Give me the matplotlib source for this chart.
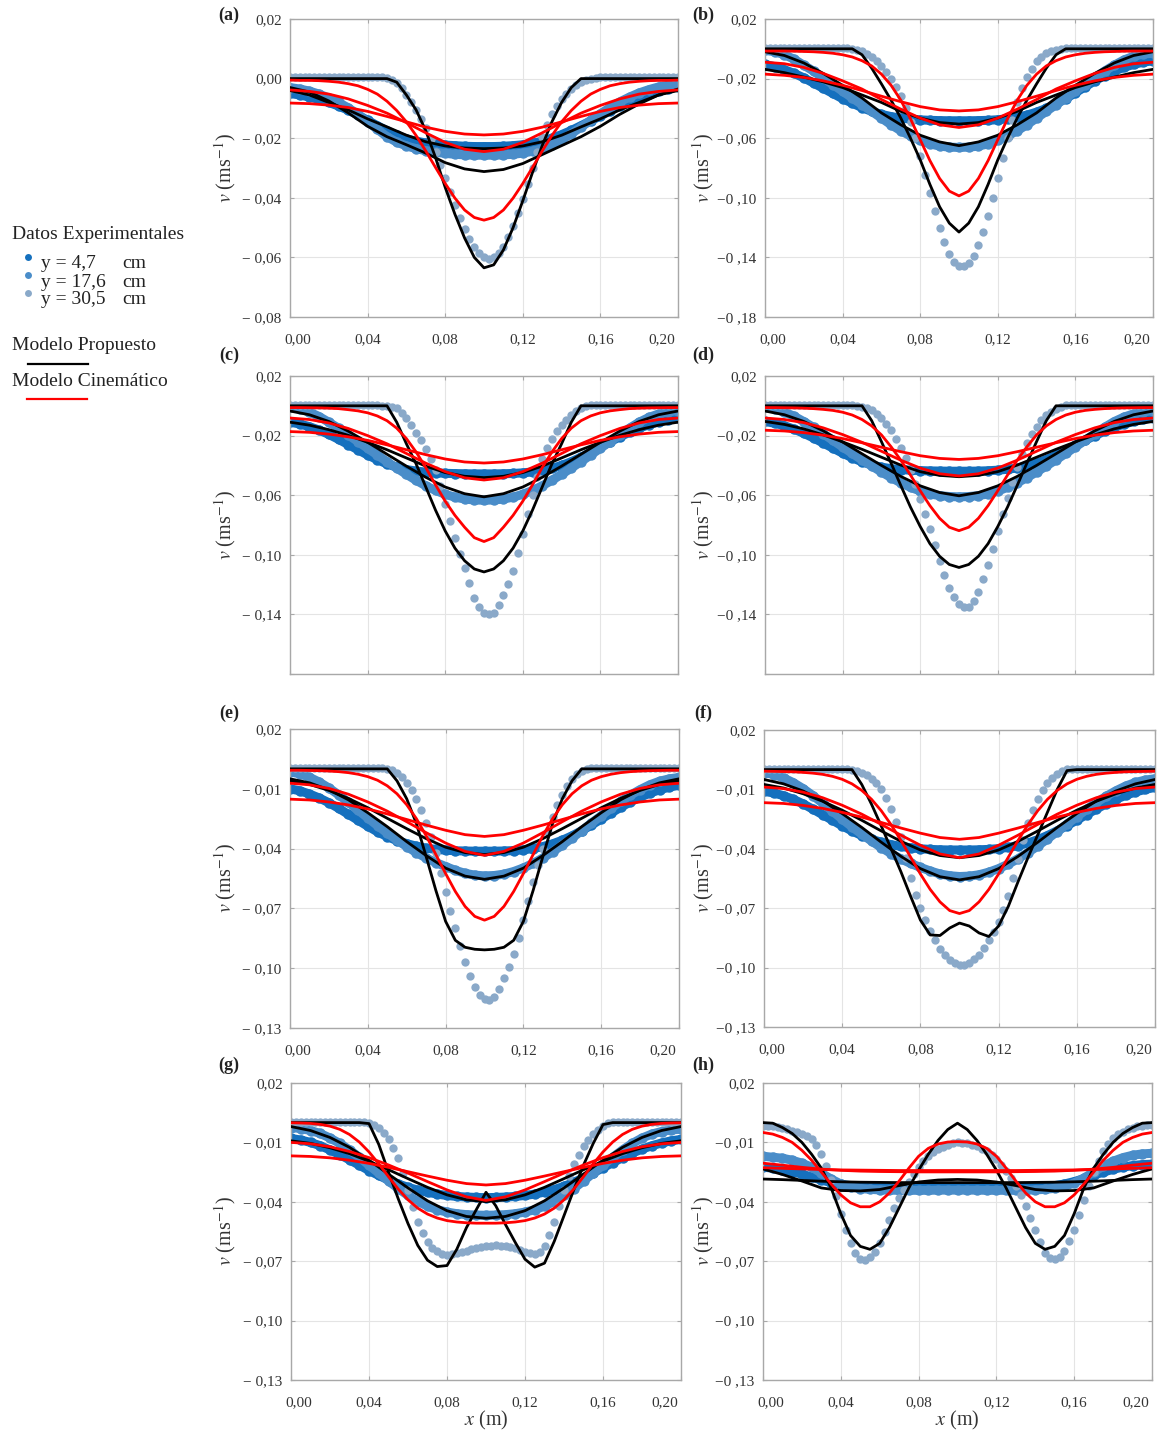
import numpy as np
import matplotlib
matplotlib.use("Agg")
import matplotlib.pyplot as plt
from matplotlib.lines import Line2D
import matplotlib.transforms as mtrans

plt.rcParams['font.family'] = ['Liberation Serif', 'DejaVu Serif']
plt.rcParams['mathtext.fontset'] = 'stix'

W, H = 1158, 1431

# ---------------- x grids (m) ----------------
x81 = np.round(np.arange(81) * 0.0025, 4)  # y = 30,5 cm experimental points
x41 = np.round(np.arange(41) * 0.005, 3)   # y = 4,7 / 17,6 cm points, sharp model curves
x21 = np.round(np.arange(21) * 0.01, 2)    # broad model curves

# ---------------- Panel (a) ----------------
a_exp_47 = [-.0050,-.0055,-.0062,-.0070,-.0080,-.0092,-.0106,-.0122,-.0140,-.0158,-.0175,-.0190,-.0202,-.0210,-.0216,-.0220,-.0223,-.0225,-.0227,-.0228,-.0228,-.0228,-.0227,-.0225,-.0222,-.0217,-.0210,-.0200,-.0188,-.0174,-.0158,-.0142,-.0125,-.0108,-.0092,-.0077,-.0064,-.0052,-.0042,-.0034,-.0028]
a_exp_176 = [-.0030,-.0035,-.0042,-.0052,-.0065,-.0080,-.0098,-.0120,-.0145,-.0170,-.0195,-.0213,-.0226,-.0235,-.0242,-.0247,-.0251,-.0254,-.0256,-.0257,-.0257,-.0257,-.0256,-.0254,-.0250,-.0244,-.0235,-.0222,-.0205,-.0185,-.0163,-.0140,-.0118,-.0097,-.0078,-.0062,-.0048,-.0037,-.0028,-.0022,-.0018]
a_exp_305 = [.0005,.0005,.0005,.0005,.0005,.0005,.0005,.0005,.0005,.0005,.0005,.0005,.0005,.0005,.0005,.0005,.0005,.0005,.0005,
             .0004,.0003,-.0005,-.0015,-.0033,-.0055,-.0079,-.0105,-.0134,-.0165,-.0203,-.0245,-.0290,-.0335,-.0380,-.0425,-.0467,-.0505,-.0538,-.0565,-.0585,-.0600,
             -.0604,-.0600,-.0586,-.0565,-.0533,-.0495,-.0452,-.0405,-.0353,-.0300,-.0246,-.0195,-.0155,-.0120,-.0093,-.0070,-.0051,-.0035,-.0021,-.0010,-.0004,.0000,.0003,
             .0005,.0005,.0005,.0005,.0005,.0005,.0005,.0005,.0005,.0005,.0005,.0005,.0005,.0005,.0005,.0005,.0005]
a_prop_47 = [-.0040,-.0055,-.0080,-.0105,-.0135,-.0162,-.0190,-.0212,-.0226,-.0233,-.0235,-.0233,-.0226,-.0212,-.0190,-.0162,-.0135,-.0105,-.0080,-.0055,-.0040]
a_prop_176 = [-.0030,-.0045,-.0075,-.0115,-.0160,-.0195,-.0222,-.0250,-.0282,-.0303,-.0312,-.0305,-.0285,-.0255,-.0225,-.0195,-.0160,-.0120,-.0085,-.0055,-.0035]
a_prop_305 = [0,0,0,0,0,0,0,0,0,0,0,-.0012,-.0055,-.0105,-.0175,-.0265,-.0365,-.0455,-.0535,-.0600,-.0635,-.0625,-.0575,-.0500,-.0410,-.0315,-.0225,-.0145,-.0080,-.0030,0,0,0,0,0,0,0,0,0,0,0]
a_kin_47 = [-.0082,-.0084,-.0089,-.0097,-.0110,-.0127,-.0145,-.0163,-.0177,-.0186,-.0189,-.0186,-.0177,-.0163,-.0145,-.0127,-.0110,-.0097,-.0089,-.0084,-.0082]
a_kin_176 = [-.0038,-.0043,-.0052,-.0068,-.0090,-.0116,-.0148,-.0182,-.0214,-.0237,-.0245,-.0237,-.0214,-.0182,-.0148,-.0116,-.0090,-.0068,-.0052,-.0043,-.0038]
a_kin_305 = [-.0005,-.0006,-.0006,-.0007,-.0009,-.0012,-.0017,-.0024,-.0036,-.0052,-.0076,-.0107,-.0145,-.0191,-.0243,-.0298,-.0352,-.0401,-.0441,-.0466,-.0475,-.0466,-.0441,-.0401,-.0352,-.0298,-.0243,-.0191,-.0145,-.0107,-.0076,-.0052,-.0036,-.0024,-.0017,-.0012,-.0009,-.0007,-.0006,-.0006,-.0005]

# ---------------- Panel (b) ----------------
b_exp_47 = [-.0105,-.0120,-.0140,-.0165,-.0195,-.0230,-.0265,-.0300,-.0335,-.0365,-.0395,-.0420,-.0440,-.0455,-.0465,-.0472,-.0477,-.0480,-.0482,-.0483,-.0483,-.0483,-.0482,-.0480,-.0476,-.0470,-.0460,-.0445,-.0425,-.0400,-.0370,-.0335,-.0295,-.0255,-.0215,-.0180,-.0150,-.0125,-.0105,-.0090,-.0080]
b_exp_176 = [-.0010,-.0020,-.0040,-.0070,-.0110,-.0150,-.0195,-.0240,-.0285,-.0330,-.0375,-.0420,-.0465,-.0510,-.0550,-.0585,-.0615,-.0638,-.0653,-.0660,-.0662,-.0660,-.0653,-.0638,-.0615,-.0585,-.0550,-.0510,-.0465,-.0420,-.0375,-.0330,-.0285,-.0240,-.0195,-.0150,-.0110,-.0075,-.0050,-.0035,-.0030]
b_exp_305 = [.0005,.0005,.0005,.0005,.0005,.0005,.0005,.0005,.0005,.0005,.0005,.0005,.0005,.0005,.0005,.0005,.0005,
             .0003,.0000,-.0006,-.0015,-.0033,-.0055,-.0083,-.0115,-.0155,-.0200,-.0255,-.0320,-.0400,-.0490,-.0600,-.0720,-.0845,-.0970,-.1090,-.1200,-.1298,-.1380,-.1432,-.1460,
             -.1460,-.1440,-.1392,-.1320,-.1228,-.1120,-.0998,-.0870,-.0735,-.0600,-.0475,-.0360,-.0265,-.0190,-.0133,-.0085,-.0053,-.0030,-.0015,-.0005,.0001,
             .0005,.0005,.0005,.0005,.0005,.0005,.0005,.0005,.0005,.0005,.0005,.0005,.0005,.0005,.0005,.0005,.0005,.0005,.0005]
b_prop_47 = [-.0138,-.0160,-.0190,-.0222,-.0260,-.0310,-.0360,-.0420,-.0465,-.0495,-.0505,-.0495,-.0465,-.0420,-.0360,-.0310,-.0260,-.0222,-.0190,-.0160,-.0138]
b_prop_176 = [-.0020,-.0045,-.0095,-.0165,-.0245,-.0330,-.0430,-.0510,-.0580,-.0625,-.0650,-.0625,-.0580,-.0510,-.0430,-.0330,-.0245,-.0165,-.0095,-.0045,-.0020]
b_prop_305 = [0,0,0,0,0,0,0,0,0,0,-.0040,-.0130,-.0235,-.0345,-.0465,-.0600,-.0745,-.0910,-.1060,-.1170,-.1230,-.1170,-.1060,-.0910,-.0745,-.0600,-.0465,-.0345,-.0235,-.0130,-.0040,0,0,0,0,0,0,0,0,0,0]
b_kin_47 = [-.0170,-.0178,-.0192,-.0215,-.0245,-.0280,-.0318,-.0355,-.0388,-.0410,-.0417,-.0410,-.0388,-.0355,-.0318,-.0280,-.0245,-.0215,-.0192,-.0178,-.0170]
b_kin_176 = [-.0090,-.0100,-.0125,-.0165,-.0215,-.0270,-.0340,-.0405,-.0465,-.0510,-.0528,-.0510,-.0465,-.0405,-.0340,-.0270,-.0215,-.0165,-.0125,-.0100,-.0090]
b_kin_305 = [-.0015,-.0015,-.0015,-.0016,-.0018,-.0020,-.0024,-.0030,-.0040,-.0055,-.0080,-.0115,-.0170,-.0245,-.0345,-.0470,-.0610,-.0750,-.0870,-.0955,-.0987,-.0955,-.0870,-.0750,-.0610,-.0470,-.0345,-.0245,-.0170,-.0115,-.0080,-.0055,-.0040,-.0030,-.0024,-.0020,-.0018,-.0016,-.0015,-.0015,-.0015]

# ---------------- Panel (c) ----------------
c_exp_47 = [-.0110,-.0122,-.0140,-.0163,-.0192,-.0225,-.0260,-.0295,-.0330,-.0362,-.0390,-.0412,-.0428,-.0438,-.0445,-.0450,-.0453,-.0455,-.0456,-.0457,-.0457,-.0457,-.0456,-.0454,-.0450,-.0444,-.0434,-.0420,-.0400,-.0375,-.0345,-.0312,-.0277,-.0242,-.0208,-.0178,-.0150,-.0127,-.0108,-.0093,-.0082]
c_exp_176 = [-.0010,-.0022,-.0042,-.0072,-.0110,-.0150,-.0195,-.0240,-.0285,-.0330,-.0375,-.0418,-.0460,-.0500,-.0537,-.0568,-.0594,-.0613,-.0626,-.0632,-.0634,-.0632,-.0626,-.0613,-.0594,-.0568,-.0537,-.0500,-.0460,-.0418,-.0375,-.0330,-.0285,-.0240,-.0195,-.0150,-.0110,-.0078,-.0055,-.0040,-.0032]
c_exp_305 = [.0003,.0003,.0003,.0003,.0003,.0003,.0003,.0003,.0003,.0003,.0003,.0003,.0003,.0003,.0003,.0003,.0003,.0003,.0003,
             .0002,.0000,-.0005,-.0015,-.0045,-.0085,-.0132,-.0180,-.0232,-.0290,-.0355,-.0430,-.0540,-.0660,-.0775,-.0890,-.0992,-.1090,-.1192,-.1290,-.1352,-.1390,
             -.1400,-.1390,-.1340,-.1270,-.1195,-.1110,-.0990,-.0860,-.0728,-.0600,-.0475,-.0360,-.0282,-.0220,-.0172,-.0130,-.0092,-.0060,-.0035,-.0015,-.0004,
             .0003,.0003,.0003,.0003,.0003,.0003,.0003,.0003,.0003,.0003,.0003,.0003,.0003,.0003,.0003,.0003,.0003,.0003,.0003]
c_prop_47 = [-.0110,-.0130,-.0160,-.0198,-.0245,-.0295,-.0350,-.0405,-.0448,-.0473,-.0482,-.0473,-.0448,-.0405,-.0350,-.0295,-.0245,-.0198,-.0160,-.0130,-.0110]
c_prop_176 = [-.0035,-.0060,-.0105,-.0170,-.0245,-.0325,-.0405,-.0480,-.0545,-.0590,-.0611,-.0590,-.0545,-.0480,-.0405,-.0325,-.0245,-.0170,-.0105,-.0060,-.0035]
c_prop_305 = [0,0,0,0,0,0,0,0,0,0,0,-.0110,-.0255,-.0390,-.0545,-.0700,-.0840,-.0955,-.1040,-.1095,-.1115,-.1095,-.1040,-.0955,-.0840,-.0700,-.0545,-.0390,-.0255,-.0110,0,0,0,0,0,0,0,0,0,0,0]
c_kin_47 = [-.0173,-.0178,-.0190,-.0208,-.0232,-.0262,-.0295,-.0328,-.0357,-.0377,-.0384,-.0377,-.0357,-.0328,-.0295,-.0262,-.0232,-.0208,-.0190,-.0178,-.0173]
c_kin_176 = [-.0082,-.0092,-.0115,-.0152,-.0200,-.0255,-.0320,-.0385,-.0442,-.0483,-.0498,-.0483,-.0442,-.0385,-.0320,-.0255,-.0200,-.0152,-.0115,-.0092,-.0082]
c_kin_305 = [-.0012,-.0012,-.0013,-.0014,-.0016,-.0019,-.0026,-.0034,-.0047,-.0068,-.0100,-.0150,-.0220,-.0310,-.0415,-.0530,-.0640,-.0735,-.0815,-.0885,-.0911,-.0885,-.0815,-.0735,-.0640,-.0530,-.0415,-.0310,-.0220,-.0150,-.0100,-.0068,-.0047,-.0034,-.0026,-.0019,-.0016,-.0014,-.0013,-.0012,-.0012]

# ---------------- Panel (d) ----------------
d_exp_47 = [-.0105,-.0117,-.0134,-.0157,-.0185,-.0216,-.0250,-.0284,-.0318,-.0349,-.0376,-.0397,-.0412,-.0422,-.0428,-.0432,-.0435,-.0437,-.0438,-.0439,-.0439,-.0439,-.0438,-.0436,-.0432,-.0426,-.0417,-.0404,-.0385,-.0361,-.0332,-.0300,-.0266,-.0232,-.0200,-.0171,-.0145,-.0123,-.0105,-.0091,-.0080]
d_exp_176 = [-.0010,-.0022,-.0042,-.0070,-.0106,-.0145,-.0188,-.0232,-.0276,-.0320,-.0363,-.0404,-.0444,-.0482,-.0517,-.0547,-.0572,-.0591,-.0603,-.0609,-.0611,-.0609,-.0603,-.0591,-.0572,-.0547,-.0517,-.0482,-.0444,-.0404,-.0363,-.0320,-.0276,-.0232,-.0188,-.0145,-.0106,-.0076,-.0054,-.0040,-.0032]
d_exp_305 = [.0003,.0003,.0003,.0003,.0003,.0003,.0003,.0003,.0003,.0003,.0003,.0003,.0003,.0003,.0003,.0003,.0003,.0003,.0003,
             .0000,-.0005,-.0015,-.0030,-.0052,-.0080,-.0120,-.0165,-.0220,-.0280,-.0352,-.0430,-.0525,-.0625,-.0728,-.0830,-.0935,-.1040,-.1135,-.1220,-.1285,-.1330,
             -.1352,-.1350,-.1310,-.1250,-.1165,-.1070,-.0958,-.0840,-.0728,-.0620,-.0512,-.0410,-.0325,-.0250,-.0190,-.0140,-.0098,-.0065,-.0040,-.0020,-.0006,
             .0003,.0003,.0003,.0003,.0003,.0003,.0003,.0003,.0003,.0003,.0003,.0003,.0003,.0003,.0003,.0003,.0003,.0003,.0003]
d_prop_47 = [-.0105,-.0125,-.0155,-.0195,-.0242,-.0292,-.0345,-.0398,-.0442,-.0467,-.0476,-.0467,-.0442,-.0398,-.0345,-.0292,-.0242,-.0195,-.0155,-.0125,-.0105]
d_prop_176 = [-.0035,-.0060,-.0105,-.0168,-.0243,-.0322,-.0400,-.0474,-.0537,-.0582,-.0604,-.0582,-.0537,-.0474,-.0400,-.0322,-.0243,-.0168,-.0105,-.0060,-.0035]
d_prop_305 = [0,0,0,0,0,0,0,0,0,0,0,-.0100,-.0240,-.0385,-.0535,-.0680,-.0810,-.0925,-.1010,-.1065,-.1085,-.1065,-.1010,-.0925,-.0810,-.0680,-.0535,-.0385,-.0240,-.0100,0,0,0,0,0,0,0,0,0,0,0]
d_kin_47 = [-.0164,-.0169,-.0180,-.0197,-.0220,-.0248,-.0278,-.0308,-.0335,-.0353,-.0360,-.0353,-.0335,-.0308,-.0278,-.0248,-.0220,-.0197,-.0180,-.0169,-.0164]
d_kin_176 = [-.0082,-.0092,-.0113,-.0148,-.0193,-.0245,-.0305,-.0365,-.0418,-.0456,-.0471,-.0456,-.0418,-.0365,-.0305,-.0245,-.0193,-.0148,-.0113,-.0092,-.0082]
d_kin_305 = [-.0012,-.0012,-.0013,-.0014,-.0016,-.0019,-.0024,-.0031,-.0043,-.0062,-.0092,-.0135,-.0195,-.0275,-.0365,-.0465,-.0570,-.0670,-.0755,-.0815,-.0838,-.0815,-.0755,-.0670,-.0570,-.0465,-.0365,-.0275,-.0195,-.0135,-.0092,-.0062,-.0043,-.0031,-.0024,-.0019,-.0016,-.0014,-.0013,-.0012,-.0012]

# ---------------- Panel (e) ----------------
e_exp_47 = [-.0100,-.0110,-.0126,-.0146,-.0170,-.0198,-.0228,-.0258,-.0288,-.0316,-.0340,-.0360,-.0375,-.0388,-.0398,-.0404,-.0408,-.0411,-.0412,-.0413,-.0413,-.0413,-.0412,-.0410,-.0406,-.0400,-.0390,-.0376,-.0358,-.0336,-.0310,-.0282,-.0252,-.0222,-.0193,-.0166,-.0142,-.0122,-.0105,-.0092,-.0082]
e_exp_176 = [-.0015,-.0025,-.0042,-.0066,-.0096,-.0130,-.0168,-.0207,-.0246,-.0285,-.0322,-.0357,-.0390,-.0420,-.0447,-.0470,-.0490,-.0509,-.0524,-.0533,-.0537,-.0535,-.0528,-.0515,-.0497,-.0474,-.0447,-.0416,-.0383,-.0347,-.0310,-.0272,-.0235,-.0198,-.0163,-.0132,-.0104,-.0080,-.0062,-.0050,-.0043]
e_exp_305 = [.0003,.0003,.0003,.0003,.0003,.0003,.0003,.0003,.0003,.0003,.0003,.0003,.0003,.0003,.0003,.0003,.0003,.0003,.0003,
             .0002,.0000,-.0008,-.0020,-.0042,-.0070,-.0107,-.0150,-.0205,-.0270,-.0342,-.0420,-.0520,-.0620,-.0712,-.0800,-.0888,-.0970,-.1038,-.1095,-.1133,-.1155,
             -.1158,-.1145,-.1103,-.1050,-.0993,-.0930,-.0848,-.0760,-.0665,-.0570,-.0482,-.0400,-.0318,-.0240,-.0180,-.0130,-.0087,-.0050,-.0027,-.0010,-.0002,
             .0003,.0003,.0003,.0003,.0003,.0003,.0003,.0003,.0003,.0003,.0003,.0003,.0003,.0003,.0003,.0003,.0003,.0003,.0003]
e_prop_47 = [-.0060,-.0078,-.0108,-.0148,-.0195,-.0248,-.0300,-.0350,-.0393,-.0420,-.0430,-.0420,-.0393,-.0350,-.0300,-.0248,-.0195,-.0148,-.0108,-.0078,-.0060]
e_prop_176 = [-.0050,-.0070,-.0105,-.0155,-.0220,-.0290,-.0365,-.0435,-.0498,-.0538,-.0554,-.0538,-.0498,-.0435,-.0365,-.0290,-.0220,-.0155,-.0105,-.0070,-.0050]
e_prop_305 = [0,0,0,0,0,0,0,0,0,0,0,-.0060,-.0150,-.0275,-.0440,-.0610,-.0765,-.0860,-.0895,-.0905,-.0908,-.0905,-.0895,-.0860,-.0765,-.0610,-.0440,-.0275,-.0150,-.0060,0,0,0,0,0,0,0,0,0,0,0]
e_kin_47 = [-.0152,-.0156,-.0166,-.0181,-.0201,-.0226,-.0254,-.0282,-.0308,-.0330,-.0339,-.0330,-.0308,-.0282,-.0254,-.0226,-.0201,-.0181,-.0166,-.0156,-.0152]
e_kin_176 = [-.0072,-.0080,-.0098,-.0127,-.0166,-.0212,-.0265,-.0320,-.0372,-.0414,-.0434,-.0414,-.0372,-.0320,-.0265,-.0212,-.0166,-.0127,-.0098,-.0080,-.0072]
e_kin_305 = [-.0007,-.0007,-.0008,-.0009,-.0011,-.0014,-.0019,-.0027,-.0039,-.0057,-.0085,-.0125,-.0180,-.0250,-.0335,-.0430,-.0525,-.0615,-.0690,-.0740,-.0759,-.0740,-.0690,-.0615,-.0525,-.0430,-.0335,-.0250,-.0180,-.0125,-.0085,-.0057,-.0039,-.0027,-.0019,-.0014,-.0011,-.0009,-.0008,-.0007,-.0007]

# ---------------- Panel (f) ----------------
f_exp_47 = [-.0110,-.0118,-.0132,-.0150,-.0173,-.0200,-.0228,-.0256,-.0284,-.0310,-.0333,-.0352,-.0367,-.0379,-.0388,-.0395,-.0400,-.0403,-.0405,-.0406,-.0406,-.0406,-.0405,-.0403,-.0399,-.0393,-.0384,-.0371,-.0354,-.0333,-.0309,-.0283,-.0255,-.0227,-.0199,-.0173,-.0150,-.0130,-.0113,-.0100,-.0090]
f_exp_176 = [-.0015,-.0025,-.0042,-.0066,-.0096,-.0131,-.0170,-.0210,-.0250,-.0289,-.0326,-.0361,-.0394,-.0424,-.0451,-.0474,-.0494,-.0512,-.0527,-.0536,-.0540,-.0538,-.0531,-.0518,-.0500,-.0477,-.0450,-.0419,-.0386,-.0350,-.0313,-.0275,-.0238,-.0201,-.0166,-.0135,-.0107,-.0083,-.0065,-.0053,-.0046]
f_exp_305 = [.0003,.0003,.0003,.0003,.0003,.0003,.0003,.0003,.0003,.0003,.0003,.0003,.0003,.0003,.0003,.0003,.0003,
             .0002,.0000,-.0006,-.0015,-.0028,-.0045,-.0070,-.0100,-.0145,-.0200,-.0265,-.0340,-.0445,-.0550,-.0632,-.0700,-.0760,-.0815,-.0862,-.0905,-.0935,-.0960,-.0977,-.0988,
             -.0985,-.0975,-.0958,-.0935,-.0900,-.0860,-.0818,-.0770,-.0710,-.0640,-.0548,-.0450,-.0355,-.0270,-.0205,-.0150,-.0105,-.0070,-.0042,-.0020,-.0006,
             .0003,.0003,.0003,.0003,.0003,.0003,.0003,.0003,.0003,.0003,.0003,.0003,.0003,.0003,.0003,.0003,.0003,.0003,.0003]
f_prop_47 = [-.0075,-.0093,-.0122,-.0160,-.0205,-.0256,-.0310,-.0362,-.0406,-.0434,-.0445,-.0434,-.0406,-.0362,-.0310,-.0256,-.0205,-.0160,-.0122,-.0093,-.0075]
f_prop_176 = [-.0050,-.0072,-.0108,-.0158,-.0222,-.0292,-.0367,-.0438,-.0500,-.0541,-.0557,-.0541,-.0500,-.0438,-.0367,-.0292,-.0222,-.0158,-.0108,-.0072,-.0050]
f_prop_305 = [0,0,0,0,0,0,0,0,0,0,-.0075,-.0175,-.0285,-.0400,-.0515,-.0640,-.0760,-.0835,-.0838,-.0800,-.0775,-.0790,-.0825,-.0843,-.0790,-.0690,-.0565,-.0445,-.0330,-.0215,-.0100,-.0005,0,0,0,0,0,0,0,0,0]
f_kin_47 = [-.0167,-.0171,-.0181,-.0196,-.0216,-.0240,-.0267,-.0295,-.0321,-.0343,-.0352,-.0343,-.0321,-.0295,-.0267,-.0240,-.0216,-.0196,-.0181,-.0171,-.0167]
f_kin_176 = [-.0088,-.0096,-.0114,-.0142,-.0180,-.0225,-.0277,-.0331,-.0382,-.0426,-.0445,-.0426,-.0382,-.0331,-.0277,-.0225,-.0180,-.0142,-.0114,-.0096,-.0088]
f_kin_305 = [-.0008,-.0009,-.0010,-.0011,-.0014,-.0018,-.0024,-.0034,-.0049,-.0072,-.0105,-.0150,-.0208,-.0278,-.0357,-.0442,-.0527,-.0605,-.0668,-.0712,-.0727,-.0712,-.0668,-.0605,-.0527,-.0442,-.0357,-.0278,-.0208,-.0150,-.0105,-.0072,-.0049,-.0034,-.0024,-.0018,-.0014,-.0011,-.0010,-.0009,-.0008]

# ---------------- Panel (g) ----------------
g_exp_47 = [-.0080,-.0088,-.0100,-.0117,-.0138,-.0162,-.0188,-.0215,-.0242,-.0267,-.0290,-.0310,-.0327,-.0341,-.0352,-.0361,-.0368,-.0373,-.0376,-.0378,-.0379,-.0378,-.0376,-.0373,-.0368,-.0361,-.0351,-.0338,-.0322,-.0302,-.0279,-.0254,-.0228,-.0202,-.0177,-.0154,-.0134,-.0117,-.0103,-.0092,-.0085]
g_exp_176 = [-.0025,-.0030,-.0040,-.0055,-.0078,-.0105,-.0138,-.0175,-.0215,-.0255,-.0295,-.0333,-.0368,-.0398,-.0422,-.0440,-.0452,-.0460,-.0465,-.0467,-.0468,-.0467,-.0465,-.0460,-.0452,-.0440,-.0422,-.0398,-.0368,-.0333,-.0295,-.0255,-.0215,-.0175,-.0138,-.0105,-.0078,-.0058,-.0045,-.0037,-.0033]
g_exp_305 = [.0005,.0005,.0005,.0005,.0005,.0005,.0005,.0005,.0005,.0005,.0005,.0005,.0005,.0005,.0005,
             .0003,.0000,-.0010,-.0025,-.0050,-.0085,-.0128,-.0180,-.0255,-.0340,-.0425,-.0500,-.0558,-.0605,-.0632,-.0650,-.0662,-.0668,-.0665,-.0660,-.0654,-.0648,-.0640,-.0632,-.0627,-.0623,
             -.0621,-.0620,-.0621,-.0624,-.0629,-.0635,-.0643,-.0652,-.0660,-.0665,-.0655,-.0625,-.0570,-.0500,-.0420,-.0340,-.0270,-.0210,-.0162,-.0120,-.0088,-.0060,-.0035,-.0015,-.0003,
             .0005,.0005,.0005,.0005,.0005,.0005,.0005,.0005,.0005,.0005,.0005,.0005,.0005,.0005,.0005]
g_prop_47 = [-.0092,-.0105,-.0127,-.0157,-.0195,-.0238,-.0283,-.0327,-.0365,-.0390,-.0399,-.0390,-.0365,-.0327,-.0283,-.0238,-.0195,-.0157,-.0127,-.0105,-.0092]
g_prop_176 = [-.0020,-.0040,-.0075,-.0125,-.0190,-.0260,-.0330,-.0395,-.0445,-.0474,-.0483,-.0474,-.0445,-.0395,-.0330,-.0260,-.0190,-.0125,-.0075,-.0040,-.0020]
g_prop_305 = [0,0,0,0,0,0,0,0,-.0005,-.0110,-.0250,-.0385,-.0510,-.0620,-.0695,-.0727,-.0722,-.0640,-.0530,-.0440,-.0352,-.0420,-.0515,-.0605,-.0690,-.0730,-.0710,-.0600,-.0470,-.0340,-.0215,-.0105,-.0010,0,0,0,0,0,0,0,0]
g_kin_47 = [-.0168,-.0171,-.0178,-.0190,-.0206,-.0226,-.0248,-.0270,-.0291,-.0308,-.0315,-.0308,-.0291,-.0270,-.0248,-.0226,-.0206,-.0190,-.0178,-.0171,-.0168]
g_kin_176 = [-.0100,-.0107,-.0122,-.0146,-.0177,-.0214,-.0255,-.0298,-.0340,-.0375,-.0393,-.0375,-.0340,-.0298,-.0255,-.0214,-.0177,-.0146,-.0122,-.0107,-.0100]
g_kin_305 = [-.0001,-.0002,-.0004,-.0009,-.0018,-.0034,-.0060,-.0098,-.0148,-.0208,-.0273,-.0336,-.0390,-.0432,-.0462,-.0482,-.0495,-.0502,-.0506,-.0508,-.0508,-.0508,-.0506,-.0502,-.0495,-.0482,-.0462,-.0432,-.0390,-.0336,-.0273,-.0208,-.0148,-.0098,-.0060,-.0034,-.0018,-.0009,-.0004,-.0002,-.0001]

# ---------------- Panel (h) ----------------
h_exp_47 = [-.0225,-.0230,-.0238,-.0248,-.0260,-.0275,-.0290,-.0303,-.0312,-.0318,-.0322,-.0325,-.0327,-.0328,-.0329,-.0330,-.0330,-.0330,-.0330,-.0330,-.0330,-.0330,-.0330,-.0330,-.0330,-.0330,-.0329,-.0328,-.0326,-.0323,-.0318,-.0310,-.0298,-.0283,-.0266,-.0250,-.0236,-.0225,-.0217,-.0212,-.0210]
h_exp_176 = [-.0170,-.0175,-.0180,-.0190,-.0205,-.0225,-.0255,-.0285,-.0310,-.0325,-.0333,-.0337,-.0340,-.0341,-.0342,-.0342,-.0342,-.0342,-.0341,-.0341,-.0341,-.0341,-.0341,-.0342,-.0342,-.0342,-.0342,-.0341,-.0340,-.0337,-.0332,-.0322,-.0305,-.0280,-.0250,-.0220,-.0195,-.0177,-.0165,-.0158,-.0155]
h_exp_305 = [-.0015,-.0016,-.0018,-.0021,-.0025,-.0032,-.0040,-.0048,-.0058,-.0068,-.0085,-.0115,-.0160,-.0220,-.0290,-.0372,-.0460,-.0540,-.0610,-.0660,-.0690,
             -.0692,-.0680,-.0652,-.0610,-.0555,-.0490,-.0432,-.0380,-.0338,-.0300,-.0262,-.0225,-.0196,-.0170,-.0151,-.0135,-.0122,-.0112,-.0105,-.0100,
             -.0101,-.0105,-.0111,-.0120,-.0131,-.0145,-.0163,-.0185,-.0212,-.0245,-.0280,-.0320,-.0368,-.0420,-.0480,-.0540,-.0605,-.0660,-.0685,-.0690,
             -.0678,-.0650,-.0600,-.0540,-.0465,-.0390,-.0318,-.0250,-.0192,-.0145,-.0108,-.0080,-.0060,-.0045,-.0034,-.0025,-.0019,-.0015,-.0012,-.0010]
h_prop_47 = [-.0285,-.0288,-.0292,-.0296,-.0299,-.0301,-.0302,-.0303,-.0303,-.0303,-.0303,-.0303,-.0303,-.0303,-.0302,-.0301,-.0299,-.0296,-.0292,-.0288,-.0285]
h_prop_176 = [-.0234,-.0262,-.0295,-.0330,-.0343,-.0345,-.0338,-.0318,-.0300,-.0290,-.0287,-.0290,-.0300,-.0318,-.0338,-.0345,-.0343,-.0330,-.0295,-.0262,-.0234]
h_prop_305 = [.0000,-.0003,-.0025,-.0055,-.0100,-.0160,-.0230,-.0330,-.0460,-.0570,-.0625,-.0640,-.0610,-.0530,-.0430,-.0330,-.0240,-.0160,-.0090,-.0035,-.0003,-.0035,-.0090,-.0160,-.0240,-.0330,-.0430,-.0530,-.0610,-.0640,-.0625,-.0570,-.0460,-.0330,-.0230,-.0160,-.0100,-.0055,-.0025,-.0003,.0000]
h_kin_47 = [-.0228,-.0231,-.0234,-.0237,-.0239,-.0240,-.0241,-.0242,-.0242,-.0242,-.0242,-.0242,-.0242,-.0242,-.0241,-.0240,-.0239,-.0237,-.0234,-.0231,-.0228]
h_kin_176 = [-.0205,-.0215,-.0226,-.0235,-.0241,-.0245,-.0247,-.0248,-.0249,-.0249,-.0249,-.0249,-.0249,-.0248,-.0247,-.0245,-.0241,-.0235,-.0226,-.0215,-.0205]
h_kin_305 = [-.0050,-.0058,-.0075,-.0100,-.0140,-.0190,-.0250,-.0310,-.0365,-.0405,-.0425,-.0425,-.0400,-.0355,-.0295,-.0230,-.0170,-.0130,-.0108,-.0098,-.0096,-.0098,-.0108,-.0130,-.0170,-.0230,-.0295,-.0355,-.0400,-.0425,-.0425,-.0405,-.0365,-.0310,-.0250,-.0190,-.0140,-.0100,-.0075,-.0058,-.0050]

# ---------------- labels ----------------
panel_letters = ['(a)', '(b)', '(c)', '(d)', '(e)', '(f)', '(g)', '(h)']
xtick_values = [0.0, 0.04, 0.08, 0.12, 0.16, 0.20]
xtick_labels = ['0,00', '0,04', '0,08', '0,12', '0,16', '0,20']
yticks_a = [0.02, 0.0, -0.02, -0.04, -0.06, -0.08]
yticks_bcd = [0.02, -0.02, -0.06, -0.10, -0.14, -0.18]
yticks_efgh = [0.02, -0.01, -0.04, -0.07, -0.10, -0.13]
legend_title = 'Datos Experimentales'
legend_series = ['y = 4,7', 'y = 17,6', 'y = 30,5']
legend_unit = 'cm'
legend_models = ['Modelo Propuesto', 'Modelo Cinemático']

C47, C176, C305 = '#1570BE', '#4A8DC9', '#8AA9C9'
CPROP, CKIN = '#000000', '#FF0000'

panels = {
    'a': dict(e=(a_exp_47, a_exp_176, a_exp_305), p=(a_prop_47, a_prop_176, a_prop_305), k=(a_kin_47, a_kin_176, a_kin_305), ylim=(-0.08, 0.02), yt=yticks_a),
    'b': dict(e=(b_exp_47, b_exp_176, b_exp_305), p=(b_prop_47, b_prop_176, b_prop_305), k=(b_kin_47, b_kin_176, b_kin_305), ylim=(-0.18, 0.02), yt=yticks_bcd),
    'c': dict(e=(c_exp_47, c_exp_176, c_exp_305), p=(c_prop_47, c_prop_176, c_prop_305), k=(c_kin_47, c_kin_176, c_kin_305), ylim=(-0.18, 0.02), yt=yticks_bcd),
    'd': dict(e=(d_exp_47, d_exp_176, d_exp_305), p=(d_prop_47, d_prop_176, d_prop_305), k=(d_kin_47, d_kin_176, d_kin_305), ylim=(-0.18, 0.02), yt=yticks_bcd),
    'e': dict(e=(e_exp_47, e_exp_176, e_exp_305), p=(e_prop_47, e_prop_176, e_prop_305), k=(e_kin_47, e_kin_176, e_kin_305), ylim=(-0.13, 0.02), yt=yticks_efgh),
    'f': dict(e=(f_exp_47, f_exp_176, f_exp_305), p=(f_prop_47, f_prop_176, f_prop_305), k=(f_kin_47, f_kin_176, f_kin_305), ylim=(-0.13, 0.02), yt=yticks_efgh),
    'g': dict(e=(g_exp_47, g_exp_176, g_exp_305), p=(g_prop_47, g_prop_176, g_prop_305), k=(g_kin_47, g_kin_176, g_kin_305), ylim=(-0.13, 0.02), yt=yticks_efgh),
    'h': dict(e=(h_exp_47, h_exp_176, h_exp_305), p=(h_prop_47, h_prop_176, h_prop_305), k=(h_kin_47, h_kin_176, h_kin_305), ylim=(-0.13, 0.02), yt=yticks_efgh),
}

# pixel layout of the axes boxes: (left, top, right, bottom)
boxes = {
    'a': (290, 19, 678, 317), 'b': (765, 19, 1153, 317),
    'c': (290, 376, 678, 674), 'd': (765, 376, 1153, 674),
    'e': (290, 729, 679, 1028), 'f': (764, 730, 1155, 1027),
    'g': (291, 1083, 681, 1380), 'h': (763, 1083, 1152, 1380),
}

def fmt_tick(v, right_style):
    s = f"{abs(v):.2f}"
    if v >= -1e-9:
        return s.replace('.', ',')
    if right_style:
        return '\u2212' + s.replace('.', ' ,')
    return '\u2212 ' + s.replace('.', ',')

def grid_for(arr):
    return {81: x81, 41: x41, 21: x21}[len(arr)]

fig = plt.figure(figsize=(W / 100, H / 100), dpi=100)
fig.patch.set_facecolor('white')

def fx(x):
    return x / W

def fy(y):
    return 1 - y / H

for idx, key in enumerate('abcdefgh'):
    P = panels[key]
    l, t, r, b = boxes[key]
    ax = fig.add_axes([fx(l), fy(b), (r - l) / W, (b - t) / H])
    right_style = key in 'bdfh'
    for arr in list(P['e']) + list(P['p']) + list(P['k']):
        if len(arr) not in (21, 41, 81):
            raise ValueError(f"panel {key}: series with {len(arr)} values")
    ex47, ex176, ex305 = P['e']
    # dense experimental points (drawn as overlapping dots forming a band)
    for arr, col in ((ex47, C47), (ex176, C176)):
        xs = grid_for(arr)
        ax.plot(xs, arr, '-', color=col, lw=6.5, solid_capstyle='round', solid_joinstyle='round', zorder=2)
        ax.plot(xs, arr, 'o', color=col, ms=7.5, mec='none', zorder=2)
    ax.plot(grid_for(ex305), ex305, 'o', color=C305, ms=6.0, mec='none', zorder=2)
    for arr in P['p']:
        ax.plot(grid_for(arr), arr, '-', color=CPROP, lw=2.0, zorder=3, solid_joinstyle='round')
    for arr in P['k']:
        ax.plot(grid_for(arr), arr, '-', color=CKIN, lw=2.0, zorder=4, solid_joinstyle='round')

    ax.set_xlim(0, 0.2)
    ax.set_ylim(*P['ylim'])
    yt = P['yt']
    ylabels = [fmt_tick(v, right_style) for v in yt]
    if key in 'cd':
        ylabels[-1] = ''
    ax.set_yticks(yt)
    ax.set_yticklabels(ylabels)
    ax.set_xticks(xtick_values)
    ax.set_xticklabels([''] * len(xtick_values))
    if key not in 'cd':
        blend = mtrans.blended_transform_factory(ax.transData, ax.transAxes)
        for xv, lab in zip(xtick_values, xtick_labels):
            dx = 8 if xv == 0.0 else (-16 if abs(xv - 0.2) < 1e-9 else 0)
            ax.text(xv, 0, lab, transform=blend + mtrans.ScaledTranslation(dx / 100, -23 / 100, fig.dpi_scale_trans),
                    ha='center', va='center', fontsize=11, color='#333333', clip_on=False)
    ax.grid(True, color='#e4e4e4', lw=0.8, zorder=0)
    ax.set_axisbelow(True)
    for sp in ax.spines.values():
        sp.set_color('#a8a8a8')
        sp.set_linewidth(1.0)
    ax.tick_params(axis='both', direction='in', length=3, width=0.8, color='#a8a8a8',
                   labelcolor='#333333', labelsize=11, top=True, right=True)
    ax.tick_params(axis='y', pad=6)

    # y label and panel letter
    ylx = 225 if key in 'aceg' else 703
    fig.text(fx(ylx), fy((t + b) / 2), r'$v$ (ms$^{-1}$)', rotation=90, ha='center', va='center',
             fontsize=14.5, color='#333333')
    plx = 229 if key in 'aceg' else 703
    ply = {'a': 15, 'b': 15, 'c': 355, 'd': 355, 'e': 713, 'f': 713, 'g': 1065, 'h': 1065}[key]
    fig.text(fx(plx), fy(ply), panel_letters[idx], ha='center', va='center', fontsize=13,
             fontweight='bold', color='#222222')
    if key in 'gh':
        fig.text(fx((l + r) / 2), fy(1420), r'$x$ (m)', ha='center', va='center', fontsize=14.5,
                 color='#333333')

# ---------------- left legend ----------------
lt = dict(fontsize=14, color='#222222', ha='left', va='baseline')
fig.text(fx(12), fy(239), legend_title, **lt)
for lab, col, yb, yd in zip(legend_series, [C47, C176, C305], [268, 287, 304], [257, 275, 293]):
    fig.add_artist(Line2D([fx(28)], [fy(yd)], marker='o', ms=5, color=col, mec='none',
                          transform=fig.transFigure))
    fig.text(fx(41), fy(yb), lab, **lt)
    fig.text(fx(122), fy(yb), legend_unit, **lt)
fig.text(fx(12), fy(350), legend_models[0], **lt)
fig.add_artist(Line2D([fx(28), fx(88)], [fy(364), fy(364)], color=CPROP, lw=1.6, transform=fig.transFigure))
fig.text(fx(12), fy(386), legend_models[1], **lt)
fig.add_artist(Line2D([fx(27), fx(87)], [fy(399), fy(399)], color=CKIN, lw=1.6, transform=fig.transFigure))

fig.savefig('out.png', dpi=100, facecolor='white')
